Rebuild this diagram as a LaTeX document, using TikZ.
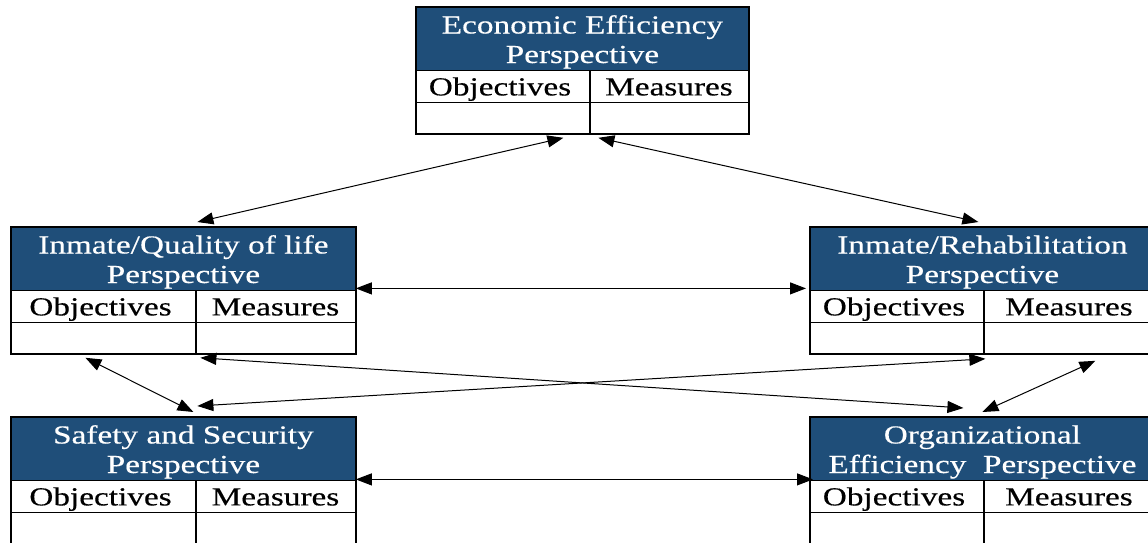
\documentclass[tikz,border=0pt]{standalone}
\usepackage{fontspec}
\setmainfont[FakeStretch=1.28,FakeBold=0.4]{Liberation Serif}
\usetikzlibrary{arrows.meta,calc}
\definecolor{hdrblue}{RGB}{31,78,121}

\tikzset{
  pbox/.style={anchor=north west, minimum height=63pt, inner sep=0pt},
  boxline/.style={line width=1pt},
  cellline/.style={line width=0.75pt},
  hdrtext/.style={anchor=base, text=white, align=center, inner sep=0pt,
    font=\fontsize{13}{14.75}\selectfont},
  celltext/.style={anchor=base, inner sep=0pt, font=\fontsize{13}{15}\selectfont},
  link/.style={line width=0.5pt,
    {Triangle[length=8pt,width=6pt]}-{Triangle[length=8pt,width=6pt]}},
}

% #1 name, #2 north west corner, #3 width, #4 column split, #5 title
\newcommand{\persp}[5]{%
  \node[pbox, minimum width={#3*0.5pt}] (#1) at (#2) {};
  \fill[hdrblue] (#1.north west) rectangle (#1.east);
  \draw[cellline] (#1.west) -- (#1.east);
  \draw[cellline] ($(#1.west)+(0,32)$) -- ($(#1.east)+(0,32)$);
  \draw[cellline] ($(#1.west)+(#4,0)$) -- ($(#1.south west)+(#4,0)$);
  \draw[boxline] (#1.north west) rectangle (#1.south east);
  % base of a two-line title sits on its last line
  \node[hdrtext] at ($(#1.north)+(0,56)$) {#5};
  \node[celltext] at ($(#1.west)+({#4/2-3},25)$) {Objectives};
  \node[celltext] at ($(#1.west)+({(#4+#3)/2},25)$) {Measures};
}

\begin{document}
\begin{tikzpicture}[x=0.5pt, y=-0.5pt]
  \fill[white] (0,0) rectangle (1148,542);
  \useasboundingbox (0,0) rectangle (1148,542);

  % the five perspectives
  \persp{econ}{416,7}{332}{174}{Economic Efficiency\\Perspective}
  \persp{life}{11,227}{344}{185}{Inmate/Quality of life\\Perspective}
  \persp{rehab}{810,227}{344}{174}{Inmate/Rehabilitation\\Perspective}
  \persp{safety}{11,417}{344}{185}{Safety and Security\\Perspective}
  \persp{org}{810,417}{344}{174}{Organizational\\Efficiency~ Perspective}

  % links between them
  \draw[link] ($(econ.south)+(-19,4)$) -- ($(life.north)+(14,-5)$);
  \draw[link] ($(econ.south)+(16,4)$) -- ($(rehab.north)+(-4,-5)$);
  \draw[link] ($(life.east)+(0,-2)$) -- ($(rehab.west)+(-4,-2)$);
  \draw[link] ($(life.south)+(-98,4)$) -- ($(safety.north)+(10,-5)$);
  \draw[link] ($(life.south)+(17,4)$) -- ($(org.north)+(-19,-9)$);
  \draw[link] ($(rehab.south)+(3,5)$) -- ($(safety.north)+(14,-11)$);
  \draw[link] ($(rehab.south)+(113,7)$) -- ($(org.north)+(0,-5)$);
  \draw[link] ($(safety.east)+(0,-1)$) -- ($(org.west)+(3,-1)$);
\end{tikzpicture}
\end{document}
